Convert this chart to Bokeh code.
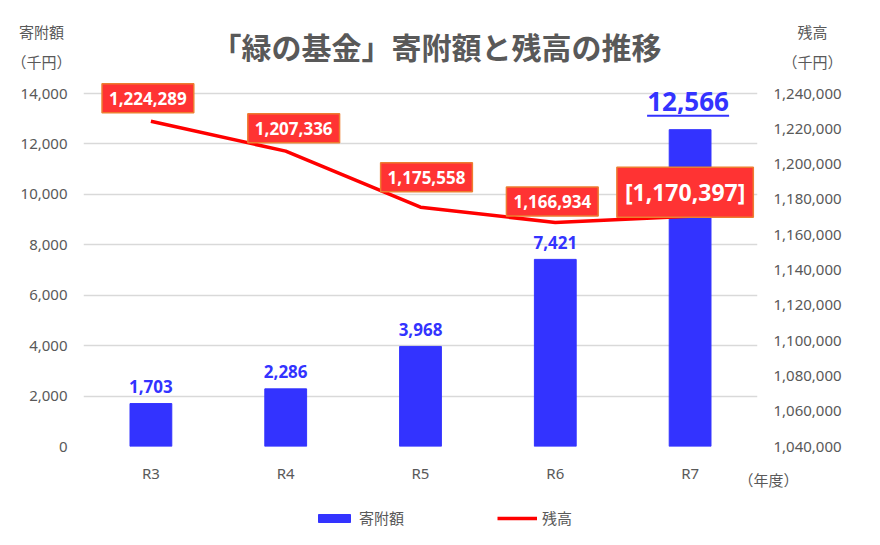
from bokeh.plotting import figure
from bokeh.layouts import column
from bokeh.models import (Range1d, LinearAxis, Label, FixedTicker, NumeralTickFormatter,
                          Legend, LegendItem, ColumnDataSource)
from bokeh.core.properties import value
from bokeh.embed import file_html
from bokeh.resources import INLINE

# ---- data ----
years = ["R3", "R4", "R5", "R6", "R7"]
donations = [1703, 2286, 3968, 7421, 12566]              # 寄附額（千円）
balance = [1224289, 1207336, 1175558, 1166934, 1170397]  # 残高（千円）
left_ticks = [0, 2000, 4000, 6000, 8000, 10000, 12000, 14000]
right_ticks = [1040000, 1060000, 1080000, 1100000, 1120000, 1140000,
               1160000, 1180000, 1200000, 1220000, 1240000]
title_text = "「緑の基金」寄附額と残高の推移"
left_axis_title = ["寄附額", "（千円）"]
right_axis_title = ["残高", "（千円）"]
x_axis_title = "（年度）"
legend_labels = ["寄附額", "残高"]

JP = "Noto Sans CJK JP"
NUM = "Noto Sans"
GRAY = "#595959"
BLUE = "#3333FF"
RED = "#FF0000"
BOX = "#FF3333"
GRID = "#D9D9D9"

# ---- layout geometry (pixels) ----
W, H = 880, 545
L, R = 83, 123          # frame left / right margins
GRID_TOP, GRID_BOT = 93, 446   # pixel rows of the top and bottom gridlines
HEAD_H = 75             # header strip height
MAIN_BOT_PAD = 12
MAIN_H = GRID_BOT + MAIN_BOT_PAD - HEAD_H
FOOT_H = H - HEAD_H - MAIN_H
n = len(years)
CW = (W - L - R) / n    # pixels per category
idx = list(range(n))

left_per_px = (left_ticks[-1] - left_ticks[0]) / (GRID_BOT - GRID_TOP)
right_per_px = (right_ticks[-1] - right_ticks[0]) / (GRID_BOT - GRID_TOP)
x_per_px = 1.0 / CW
extra_top = GRID_TOP - HEAD_H


def fx(px):
    """canvas pixel column -> category coordinate"""
    return -0.5 + (px - L) / CW


def bare(fig):
    fig.outline_line_color = None
    fig.background_fill_color = "white"
    fig.border_fill_color = "white"
    fig.grid.visible = False
    fig.frame_align = False
    return fig


# ================= header =================
head = bare(figure(width=W, height=HEAD_H, x_range=Range1d(0, W), y_range=Range1d(HEAD_H, 0),
                   output_backend="svg", toolbar_location=None,
                   x_axis_location=None, y_axis_location=None, min_border=0))
head.add_layout(Label(x=436, y=45, text=title_text, text_align="center", text_baseline="middle",
                      text_font=JP, text_font_style="bold", text_font_size="30px", text_color=GRAY))
for cx, lines in ((41, left_axis_title), (812, right_axis_title)):
    for yy, t in zip((31, 61), lines):
        head.add_layout(Label(x=cx, y=yy, text=t, text_align="center", text_baseline="middle",
                              text_font=JP, text_font_size="15px", text_color=GRAY))

# ================= main chart =================
p = bare(figure(width=W, height=MAIN_H, x_range=Range1d(-0.5, n - 0.5),
                y_range=Range1d(left_ticks[0], left_ticks[-1] + extra_top * left_per_px),
                output_backend="svg", toolbar_location=None, x_axis_location=None,
                min_border_left=L, min_border_right=R, min_border_top=0,
                min_border_bottom=MAIN_BOT_PAD))
p.extra_y_ranges = {"bal": Range1d(right_ticks[0], right_ticks[-1] + extra_top * right_per_px)}

ya = p.yaxis[0]
ya.ticker = FixedTicker(ticks=left_ticks)
ya.formatter = NumeralTickFormatter(format="0,0")
ra = LinearAxis(y_range_name="bal", ticker=FixedTicker(ticks=right_ticks),
                formatter=NumeralTickFormatter(format="0,0"))
p.add_layout(ra, "right")
for ax in (ya, ra):
    ax.axis_line_color = None
    ax.major_tick_line_color = None
    ax.minor_tick_line_color = None
    ax.major_tick_out = 0
    ax.major_label_text_color = GRAY
    ax.major_label_text_font = NUM
    ax.major_label_text_font_size = "15px"
    ax.major_label_standoff = 16

p.ygrid.visible = True
p.ygrid.ticker = FixedTicker(ticks=left_ticks)
p.ygrid.grid_line_color = GRID
p.ygrid.grid_line_width = 1.5

src = ColumnDataSource(dict(x=idx, don=donations, bal=balance))
p.vbar(x="x", top="don", width=0.31, color=BLUE, source=src)
p.line(x="x", y="bal", y_range_name="bal", line_color=RED, line_width=3.5, source=src)

# bar value labels
for i, v in zip(idx, donations):
    big = (i == idx[-1])
    p.add_layout(Label(x=i, y=v, text=f"{v:,}", text_align="center", text_baseline="alphabetic",
                       x_offset=-2 if big else 0, y_offset=28 if big else 17, text_color=BLUE,
                       text_font=NUM, text_font_style="bold",
                       text_font_size="26px" if big else "17px"))
ul_y = donations[-1] + 14 * left_per_px
p.segment(x0=[idx[-1] + (-2 - 41) * x_per_px], x1=[idx[-1] + (-2 + 41) * x_per_px],
          y0=[ul_y], y1=[ul_y], line_color=BLUE, line_width=2)

# balance labels (red boxes with shadow)
box_dx = [-3, 8, 6, -3, -5]
box_dy = [23, 23, 30, 21, 24]
for i, v in zip(idx, balance):
    last = (i == idx[-1])
    txt = f"[{v:,}]" if last else f"{v:,}"
    common = dict(x=i, y=v, y_range_name="bal", text=txt, text_align="center",
                  text_baseline="middle", text_font=NUM, text_font_style="bold",
                  text_font_size="23px" if last else "17px",
                  padding=(8, 9) if last else (7, 8))
    p.add_layout(Label(x_offset=box_dx[i] + 3, y_offset=box_dy[i] - 4, text_alpha=0,
                       background_fill_color="#000000", background_fill_alpha=0.22, **common))
    p.add_layout(Label(x_offset=box_dx[i], y_offset=box_dy[i], text_color="white",
                       background_fill_color=BOX, border_line_color="#ED7D31",
                       border_line_width=1.5, **common))
ul2 = balance[-1] + (box_dy[-1] - 13) * right_per_px
p.segment(x0=[idx[-1] + (-5 - 59) * x_per_px], x1=[idx[-1] + (-5 + 59) * x_per_px],
          y0=[ul2], y1=[ul2], y_range_name="bal", line_color="white", line_width=1.5)

# ================= footer =================
top_abs = HEAD_H + MAIN_H
foot = bare(figure(width=W, height=FOOT_H, x_range=Range1d(fx(0), fx(W)),
                   y_range=Range1d(H, top_abs), output_backend="svg", toolbar_location=None,
                   x_axis_location=None, y_axis_location=None, min_border=0))
foot.text(x=idx, y=[472] * n, text=years, text_align="center", text_baseline="middle",
          text_font=value(NUM), text_font_size="15px", text_color=GRAY)
foot.add_layout(Label(x=fx(768), y=479, text=x_axis_title, text_align="center",
                      text_baseline="middle", text_font=JP, text_font_size="15px",
                      text_color=GRAY))
# legend proxies: same data, but they fall far outside the footer's visible y range
lg_bar = foot.vbar(x="x", top="bal", bottom="bal", width=0.3, color=BLUE, source=src)
lg_line = foot.line(x="x", y="bal", line_color=RED, line_width=3.5, source=src)
legend = Legend(items=[LegendItem(label=legend_labels[0], renderers=[lg_bar]),
                       LegendItem(label=legend_labels[1], renderers=[lg_line])],
                orientation="horizontal", location=(314, 17),
                glyph_width=40, glyph_height=10, label_standoff=5, spacing=93,
                padding=0, margin=0, border_line_color=None, background_fill_alpha=0,
                label_text_font=JP, label_text_font_size="15px", label_text_color=GRAY)
foot.add_layout(legend, "center")

layout = column(head, p, foot, spacing=0)
open("out.html", "w").write(file_html(layout, INLINE))
